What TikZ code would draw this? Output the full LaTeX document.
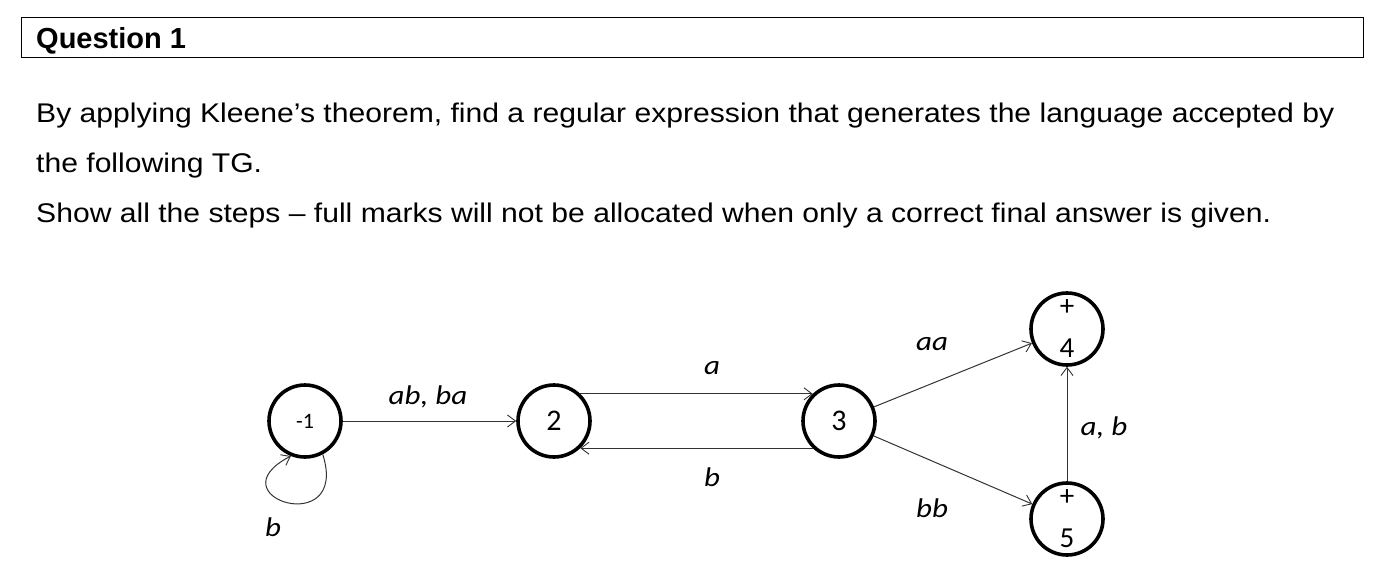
\documentclass[tikz,border=0pt]{standalone}
\usepackage{fontspec}
\setmainfont{Liberation Sans}
\newfontfamily\bodyfont[FakeStretch=1.115]{Liberation Sans}
\newfontfamily\calfont{Carlito}
\newfontfamily\callbl[FakeStretch=1.15]{Carlito}
\usetikzlibrary{arrows.meta}
\begin{document}
\begin{tikzpicture}[x=1pt,y=-1pt,
  state/.style={circle,draw,line width=3.6pt,minimum size=72pt,inner sep=0pt,font=\calfont\fontsize{30}{30}\selectfont},
  accstate/.style={state,align=center,font=\calfont\fontsize{29}{42}\selectfont},
  edge/.style={line width=1pt,draw=black!80,-{Straight Barb[length=8pt,width=12pt,line width=0.9pt]}},
  lbl/.style={font=\callbl\itshape\fontsize{27}{27}\selectfont,inner sep=0pt},
  body/.style={anchor=base west,inner sep=0pt,font=\bodyfont\fontsize{27}{27}\selectfont}]
\useasboundingbox (0,0) rectangle (1392,570);
\node[draw,line width=1.3pt,minimum width=1342pt,minimum height=40pt,anchor=north west,inner sep=0pt] (hdr) at (21,17) {};
\node[anchor=base west,inner sep=0pt,font=\bfseries\fontsize{29}{29}\selectfont] (q) at (36,48) {Question 1};
\node[body] (t1) at (36,122) {By applying Kleene’s theorem, find a regular expression that generates the language accepted by};
\node[body] (t2) at (36,172) {the following TG.};
\node[body] (t3) at (36,222) {Show all the steps – full marks will not be allocated when only a correct final answer is given.};

\node[state] (n1) at (305,421) {\fontsize{22}{22}\selectfont -1};
\node[state] (n2) at (554,421) {2};
\node[state] (n3) at (839,421) {3};
\node[accstate] (n4) at (1067,329) {+\\4};
\node[accstate] (n5) at (1067,519) {+\\5};

\draw[edge] (n1) -- (n2);
\draw[edge] (n2.46) -- (n3.134);
\draw[edge] (n3.-134) -- (n2.-46);
\draw[edge] (n3) -- (n4);
\draw[edge] (n3) -- (n5);
\draw[edge] (n5) -- (n4);
\draw[edge] (n1.-62) .. controls (350,540) and (212,497) .. (n1.-112);

\node[lbl] (l12) at (428,397) {ab, ba};
\node[lbl] (l23) at (712,368) {a};
\node[lbl] (l32) at (712,477) {b};
\node[lbl] (l34) at (932,344) {aa};
\node[lbl] (l35) at (932,508) {bb};
\node[lbl] (l54) at (1104,428) {a, b};
\node[lbl] (l11) at (273,527) {b};
\end{tikzpicture}
\end{document}
